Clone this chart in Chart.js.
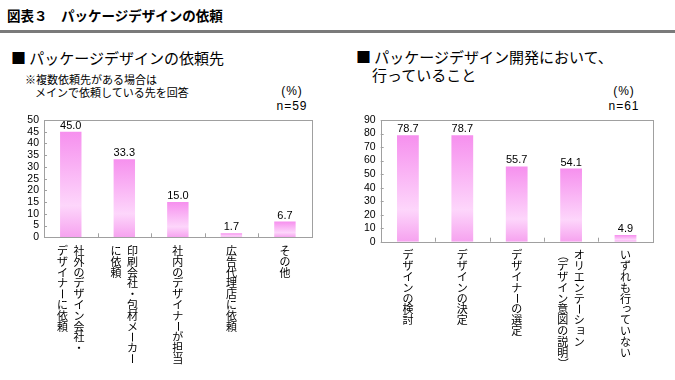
<!DOCTYPE html>
<html><head><meta charset="utf-8">
<script src="https://cdn.jsdelivr.net/npm/chart.js@4.4.1/dist/chart.umd.min.js"></script>
<style>
html,body{margin:0;padding:0;background:#fff;width:675px;height:380px;overflow:hidden;position:relative;font-family:"Noto Sans CJK JP","Noto Sans CJK SC",sans-serif;color:#000}
.t{position:absolute;white-space:nowrap;line-height:1}
.n{font-family:"Liberation Sans",Arial,sans-serif;font-size:12px;letter-spacing:1px;text-align:center;width:60px}
canvas{position:absolute}
</style></head><body>
<div class="t" style="left:7px;top:8.6px;font-size:13.5px;font-weight:bold">図表３　パッケージデザインの依頼</div>
<div style="position:absolute;left:0;top:30px;width:675px;height:3px;background:#7a7a7a"></div>

<div class="t" style="left:11px;top:49.7px;font-size:15px">■ パッケージデザインの依頼先</div>
<div class="t" style="left:25px;top:74px;font-size:11px">※複数依頼先がある場合は</div>
<div class="t" style="left:35px;top:87px;font-size:11px">メインで依頼している先を回答</div>
<div class="t n" style="left:262px;top:85px">(%)</div>
<div class="t n" style="left:262px;top:100px">n=59</div>

<div class="t" style="left:356px;top:48.7px;font-size:15px">■ パッケージデザイン開発において、</div>
<div class="t" style="left:372px;top:66.7px;font-size:15px">行っていること</div>
<div class="t n" style="left:594px;top:85px">(%)</div>
<div class="t n" style="left:594px;top:100px">n=61</div>

<canvas id="c1" width="340" height="280" style="left:0;top:100px"></canvas>
<canvas id="c2" width="335" height="280" style="left:340px;top:100px"></canvas>

<script>
// ---- data ----
const leftCategories = [
  ["社外のデザイン会社・", "デザイナーに依頼"],
  ["印刷会社・包材メーカー", "に依頼"],
  ["社内のデザイナーが担当"],
  ["広告代理店に依頼"],
  ["その他"]
];
const leftValues = [45.0, 33.3, 15.0, 1.7, 6.7];
const leftTickValues = [0, 5, 10, 15, 20, 25, 30, 35, 40, 45, 50];

const rightCategories = [
  ["デザインの検討"],
  ["デザインの決定"],
  ["デザイナーの選定"],
  ["オリエンテーション", "（デザイン意図の説明）"],
  ["いずれも行っていない"]
];
const rightValues = [78.7, 78.7, 55.7, 54.1, 4.9];
const rightTickValues = [0, 10, 20, 30, 40, 50, 60, 70, 80, 90];

// ---- helpers ----
function barFill(c) {
  const chart = c.chart, area = chart.chartArea;
  if (!area || c.type !== 'data') return '#f8a8f2';
  const y = chart.scales.y;
  const top = y.getPixelForValue(c.raw), bot = y.getPixelForValue(0);
  if (bot - top < 1) return '#f8b0f3';
  const g = chart.ctx.createLinearGradient(0, top, 0, bot);
  g.addColorStop(0, '#f690ee');
  g.addColorStop(0.7, '#fdd6fb');
  g.addColorStop(1, '#f6a2ef');
  return g;
}

const ROTATE = 'ー（）()〜－—';
const SMALL = 'ッャュョァィゥェォっゃゅょぁぃぅぇぉ';

const deco = {
  id: 'deco',
  afterDatasetsDraw(chart) {
    const ctx = chart.ctx, a = chart.chartArea, x = chart.scales.x, y = chart.scales.y;
    const labels = chart.data.labels;
    ctx.save();
    ctx.strokeStyle = '#a0a0a0';
    ctx.lineWidth = 1;
    ctx.strokeRect(Math.round(a.left) + 0.5, Math.round(a.top) + 0.5,
                   Math.round(a.right - a.left), Math.round(a.bottom - a.top));
    ctx.beginPath();
    y.ticks.forEach(t => {
      const py = Math.round(y.getPixelForValue(t.value)) + 0.5;
      ctx.moveTo(a.left, py); ctx.lineTo(a.left + 3, py);
    });
    for (let i = 1; i < labels.length; i++) {
      const px = Math.round((x.getPixelForValue(i - 1) + x.getPixelForValue(i)) / 2) + 0.5;
      ctx.moveTo(px, a.bottom); ctx.lineTo(px, a.bottom - 4);
    }
    ctx.stroke();

    // value labels
    const meta = chart.getDatasetMeta(0);
    const vals = chart.data.datasets[0].data;
    ctx.fillStyle = '#000';
    ctx.font = '11px "Liberation Sans", Arial, sans-serif';
    ctx.textAlign = 'center';
    ctx.textBaseline = 'alphabetic';
    meta.data.forEach((bar, i) => ctx.fillText(vals[i].toFixed(1), bar.x, bar.y - 3));

    // vertical category labels
    const fs = 11, pitch = 10.8, gap = 16.5;
    ctx.font = fs + 'px "Noto Sans CJK JP", sans-serif';
    ctx.textBaseline = 'middle';
    labels.forEach((cols, i) => {
      const cx = x.getPixelForValue(i);
      const n = cols.length;
      cols.forEach((col, j) => {
        const colX = cx + (n - 1) / 2 * gap - j * gap;
        Array.from(col).forEach((ch, k) => {
          const cy = a.bottom + 13.5 + k * pitch;
          ctx.save();
          ctx.translate(colX, cy);
          if (ROTATE.includes(ch)) ctx.rotate(Math.PI / 2);
          if (SMALL.includes(ch)) ctx.translate(fs * 0.12, -fs * 0.12);
          ctx.fillText(ch, 0, 0);
          ctx.restore();
        });
      });
    });
    ctx.restore();
  }
};

function makeChart(id, labels, values, ticks, padding, yWidth) {
  const step = ticks[1] - ticks[0];
  return new Chart(document.getElementById(id), {
    type: 'bar',
    data: {
      labels: labels,
      datasets: [{ data: values, backgroundColor: barFill, borderWidth: 0,
                   categoryPercentage: 1, barPercentage: 0.4 }]
    },
    options: {
      responsive: false,
      animation: false,
      events: [],
      layout: { padding: padding },
      plugins: { legend: { display: false }, tooltip: { enabled: false } },
      scales: {
        x: { display: false, ticks: { autoSkip: false } },
        y: {
          min: ticks[0], max: ticks[ticks.length - 1],
          grid: { display: false, drawTicks: false },
          border: { display: false },
          ticks: { stepSize: step, autoSkip: false, padding: 5, color: '#000',
                   font: { family: '"Liberation Sans", Arial, sans-serif', size: 10.5 } },
          afterFit(s) { s.width = yWidth; }
        }
      }
    },
    plugins: [deco]
  });
}

makeChart('c1', leftCategories, leftValues, leftTickValues,
          { left: 0, top: 20, right: 28.3, bottom: 142.7 }, 44);
makeChart('c2', rightCategories, rightValues, rightTickValues,
          { left: 0, top: 20, right: 22.3, bottom: 138.3 }, 40.7);
</script>
</body></html>
